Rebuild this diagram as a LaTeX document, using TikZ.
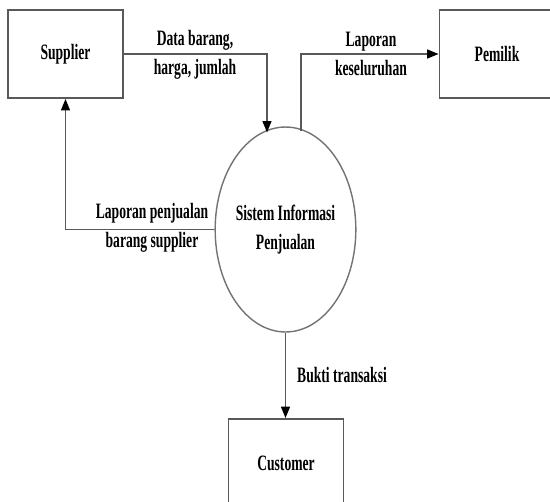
\documentclass[tikz,border=0pt]{standalone}
\usepackage{fontspec}
\setmainfont{Liberation Serif}[FakeStretch=0.62]
\usetikzlibrary{arrows.meta,positioning,shapes.geometric}

\begin{document}
\begin{tikzpicture}[x=0.02cm,y=-0.02cm,
  dfdfont/.style={font=\bfseries\fontsize{12.5}{16.5}\selectfont},
  entity/.style={draw=black!65,line width=1pt,minimum width=2.3cm,minimum height=1.76cm,inner sep=0pt,dfdfont},
  process/.style={ellipse,draw=black!55,line width=0.8pt,minimum width=2.3cm,minimum height=4.1cm,inner sep=0pt,align=center,dfdfont},
  flow/.style={draw=black!65,line width=1pt,-{Triangle[length=6.5pt,width=5pt,black]}},
  flowlbl/.style={align=center,dfdfont}]
  \useasboundingbox (0,0) rectangle (550,501);
  \clip (0,0) rectangle (550,501);

  % entities and process
  \node[entity] (supplier) at (65.5,54) {Supplier};
  \node[entity] (pemilik) at (497,54) {Pemilik};
  \node[entity] (customer) at (286,463) {Customer};
  \node[process] (sistem) at (285.5,229.5) {Sistem Informasi\\Penjualan};

  % points on the ellipse
  \coordinate (sisin) at (267,132.5);
  \coordinate (sisout) at (301,130.8);

  % flows
  \draw[flow] (supplier.east) -| (sisin);
  \draw[flow] (sisout) |- (pemilik.west);
  \draw[flow] (sistem.west) -| (supplier.south);
  \draw[flow] (sistem.south) -- (sistem.south |- customer.north);

  % flow labels
  \node[flowlbl] (ldata) at (195,55) {Data barang,\\harga, jumlah};
  \node[flowlbl] (llap) at (371,54) {Laporan\\keseluruhan};
  \node[flowlbl] (lpenj) at (152,228) {Laporan penjualan\\barang supplier};
  \node[flowlbl,anchor=west] (lbukti) at (291,375) {Bukti transaksi};
\end{tikzpicture}
\end{document}
